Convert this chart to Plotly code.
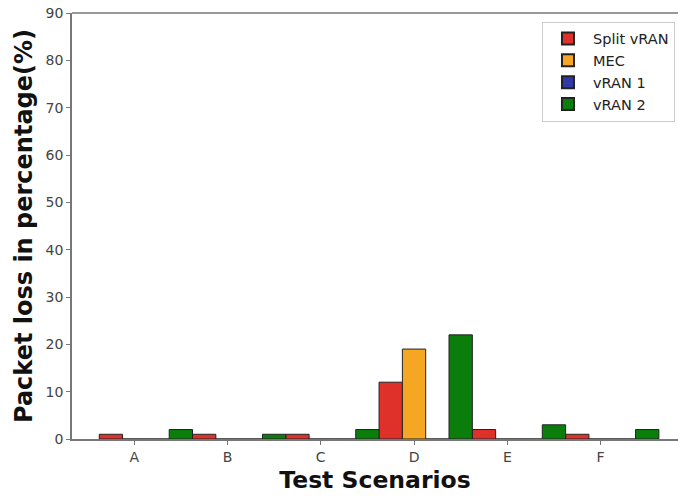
import plotly.graph_objects as go

categories = ["A", "B", "C", "D", "E", "F"]
split_vran = [1, 1, 1, 12, 2, 1]
mec = [0, 0, 0, 19, 0, 0]
vran1 = [0, 0, 0, 0, 0, 0]
vran2 = [2, 1, 2, 22, 3, 2]

series = [
    ("Split vRAN", split_vran, "#e0302a", -0.25),
    ("MEC", mec, "#f5a623", 0.0),
    ("vRAN 1", vran1, "#2f3aa6", 0.25),
    ("vRAN 2", vran2, "#0a7d0a", 0.5),
]

w = 0.25
fig = go.Figure()
for name, vals, col, off in series:
    fig.add_trace(go.Bar(
        x=[i + off for i in range(len(categories))],
        y=vals, width=w, name=name,
        marker=dict(color=col, line=dict(color="#222222", width=1)),
    ))

fig.update_layout(
    width=678, height=496,
    margin=dict(l=72, r=0, t=13, b=57, autoexpand=False),
    plot_bgcolor="white", paper_bgcolor="white",
    barmode="overlay",
    font=dict(family="DejaVu Sans", size=14, color="#444444"),
    showlegend=True,
    legend=dict(x=0.995, y=0.98, xanchor="right", yanchor="top",
                bordercolor="#cccccc", borderwidth=1, bgcolor="white",
                font=dict(size=14.5, color="#222222"), itemsizing="constant",
                itemwidth=40, tracegroupgap=6),
)
fig.update_xaxes(
    range=[-0.667, 5.83], tickmode="array",
    tickvals=list(range(len(categories))), ticktext=categories,
    showline=True, linecolor="#777777", linewidth=1.5,
    ticks="outside", ticklen=4, tickcolor="#777777",
    showgrid=False, zeroline=False, automargin=False,
    title=dict(text="<b>Test Scenarios</b>", font=dict(size=23.5, color="#111111"), standoff=8),
)
fig.update_yaxes(
    range=[0, 90], tickmode="linear", dtick=10,
    showline=True, linecolor="#777777", linewidth=1.5, mirror=False,
    ticks="outside", ticklen=4, tickcolor="#777777",
    showgrid=False, zeroline=False, automargin=False,
    title=dict(text="<b>Packet loss in percentage(%)</b>", font=dict(size=24, color="#111111"), standoff=6),
)
# top spine
fig.add_shape(type="line", xref="paper", yref="paper", x0=0, x1=1, y0=1, y1=1,
              line=dict(color="#777777", width=1.5))
fig.write_html("out.html", config={"displayModeBar": False},
               post_script="document.body.style.margin='0';document.body.style.padding='0';")
